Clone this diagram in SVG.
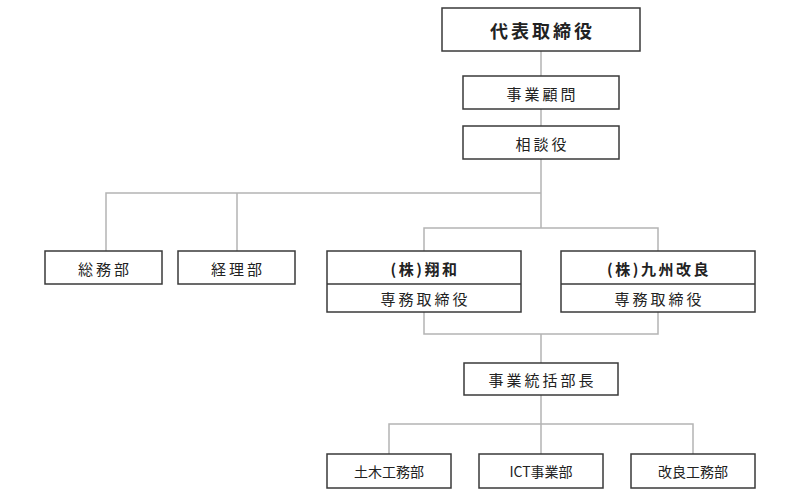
<svg xmlns="http://www.w3.org/2000/svg" width="800" height="500" viewBox="0 0 800 500">
<style>
.box{fill:#fff;stroke:#3a3a3a;stroke-width:1.5}
.div{stroke:#3a3a3a;stroke-width:1.5}
.con{fill:none;stroke:#b4b4b4;stroke-width:1.5}
text{font-family:"Noto Sans CJK JP","Noto Sans CJK SC",sans-serif;fill:#222;text-anchor:middle;dominant-baseline:central}
.t{font-size:15px;letter-spacing:3px}
.b{font-size:15px;font-weight:bold;letter-spacing:2.5px}
.top{font-size:18px;font-weight:bold;letter-spacing:3px}
.s{font-size:14px;letter-spacing:0}
</style>
<rect width="800" height="500" fill="#fff"/>
<g id="connectors">
<path class="con" d="M541 51V76M541 109V126M541 159V228M106 251V193H541M237 193V251M424 251V228H658V251"/>
<path class="con" d="M424 312V334H658V312M541 334V363M541 395V454M389 454V424H693V454"/>
</g>
<g id="ceo"><rect class="box" x="442" y="8" width="198" height="43"/><text class="top" x="542.5" y="30">代表取締役</text></g>
<g id="advisor"><rect class="box" x="463" y="76" width="156" height="33"/><text class="t" x="542.5" y="93">事業顧問</text></g>
<g id="counselor"><rect class="box" x="463" y="126" width="156" height="33"/><text class="t" x="542.5" y="143">相談役</text></g>
<g id="somu"><rect class="box" x="45" y="251" width="117" height="33"/><text class="t" x="105" y="268">総務部</text></g>
<g id="keiri"><rect class="box" x="178" y="251" width="117" height="33"/><text class="t" x="238" y="268">経理部</text></g>
<g id="showa"><rect class="box" x="327" y="251" width="194" height="61"/><line class="div" x1="327" y1="284" x2="521" y2="284"/><text class="b" x="425" y="268">(株)翔和</text><text class="t" x="425.5" y="298">専務取締役</text></g>
<g id="kyushu"><rect class="box" x="561" y="251" width="194" height="61"/><line class="div" x1="561" y1="284" x2="755" y2="284"/><text class="b" x="659" y="268">(株)九州改良</text><text class="t" x="659.5" y="298">専務取締役</text></g>
<g id="manager"><rect class="box" x="464" y="363" width="154" height="32"/><text class="t" x="542.5" y="379">事業統括部長</text></g>
<g id="doboku"><rect class="box" x="327" y="454" width="124" height="34"/><text class="s" x="389" y="471">土木工務部</text></g>
<g id="ict"><rect class="box" x="479" y="454" width="124" height="34"/><text class="s" x="541" y="471">ICT事業部</text></g>
<g id="kairyo"><rect class="box" x="631" y="454" width="124" height="34"/><text class="s" x="693" y="471">改良工務部</text></g>
</svg>
